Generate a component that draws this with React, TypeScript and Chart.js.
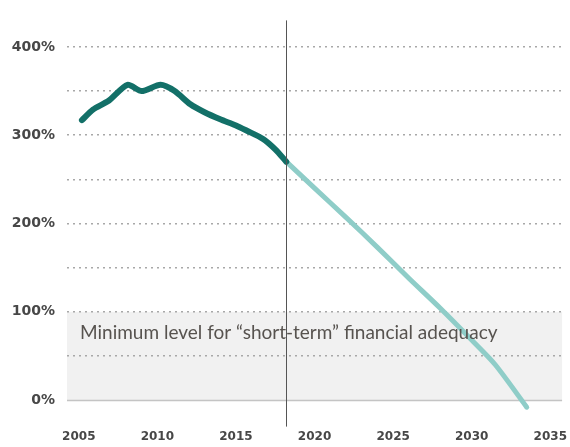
import React, { useEffect, useRef } from "react";
import { Chart, registerables } from "chart.js";

Chart.register(...registerables);

const historicalYears = [2005.2, 2005.9, 2006.9, 2008.1, 2009.0, 2010.2, 2011.1, 2012.1, 2013.0, 2014.0, 2015.0, 2015.7, 2016.7, 2017.5, 2018.2];
const historicalValues = [317, 329, 339, 357, 350, 357, 350, 335, 326, 318, 311, 305, 296, 284, 270];
const projectedYears = [2018.2, 2020, 2022, 2024, 2026, 2028, 2030, 2031.5, 2033.5];
const projectedValues = [270, 240, 207, 173, 138, 104, 68, 40, -8];
const xTicks = [2005, 2010, 2015, 2020, 2025, 2030, 2035];
const yTicks = [0, 50, 100, 150, 200, 250, 300, 350, 400];
const yLabeled = [0, 100, 200, 300, 400];
const dividerYear = 2018.2;
const bandMin = 0;
const bandMax = 100;
const caption = "Minimum level for \u201cshort-term\u201d financial adequacy";

export default function App() {
  const ref = useRef<HTMLCanvasElement | null>(null);

  useEffect(() => {
    const canvas = ref.current;
    if (!canvas) return;

    const decor = {
      id: "decor",
      beforeDraw(chart: any) {
        const { ctx, chartArea, scales } = chart;
        const y = scales.y;
        ctx.save();
        ctx.fillStyle = "#f1f1f1";
        const top = y.getPixelForValue(bandMax);
        const bot = y.getPixelForValue(bandMin);
        ctx.fillRect(chartArea.left, top, chartArea.right - chartArea.left, bot - top);
        ctx.restore();
      },
      beforeDatasetsDraw(chart: any) {
        const { ctx, chartArea, scales } = chart;
        const y0 = Math.round(scales.y.getPixelForValue(0)) + 0.5;
        ctx.save();
        ctx.strokeStyle = "#c4c4c4";
        ctx.lineWidth = 1.5;
        ctx.beginPath();
        ctx.moveTo(chartArea.left, y0);
        ctx.lineTo(chartArea.right, y0);
        ctx.stroke();
        ctx.restore();
      },
      afterDatasetsDraw(chart: any) {
        const { ctx, chartArea, scales } = chart;
        ctx.save();
        const x = Math.round(scales.x.getPixelForValue(dividerYear)) + 0.5;
        ctx.strokeStyle = "#555555";
        ctx.lineWidth = 1;
        ctx.beginPath();
        ctx.moveTo(x, chartArea.top);
        ctx.lineTo(x, chartArea.bottom);
        ctx.stroke();
        ctx.fillStyle = "#57534f";
        ctx.font = "19px Lato";
        ctx.textBaseline = "middle";
        ctx.textAlign = "left";
        ctx.fillText(caption, chartArea.left + 13, scales.y.getPixelForValue(76));
        ctx.restore();
      },
    };

    const chart = new Chart(canvas, {
      type: "line",
      data: {
        datasets: [
          {
            data: historicalYears.map((x, i) => ({ x, y: historicalValues[i] })),
            borderColor: "#137068",
            borderWidth: 6,
            tension: 0.25,
            pointRadius: 0,
            borderCapStyle: "round",
            borderJoinStyle: "round",
          },
          {
            data: projectedYears.map((x, i) => ({ x, y: projectedValues[i] })),
            borderColor: "#8fcdc8",
            borderWidth: 5,
            tension: 0.25,
            pointRadius: 0,
            borderCapStyle: "round",
            borderJoinStyle: "round",
          },
        ],
      },
      plugins: [decor],
      options: {
        animation: false,
        responsive: false,
        maintainAspectRatio: false,
        layout: { padding: { top: 14, right: 0, left: 0, bottom: 0 } },
        plugins: { legend: { display: false }, tooltip: { enabled: false } },
        scales: {
          x: {
            type: "linear",
            min: 2004.25,
            max: 2035.75,
            afterBuildTicks: (s: any) => {
              s.ticks = xTicks.map((v) => ({ value: v }));
            },
            afterFit: (s: any) => {
              s.height = 19;
            },
            grid: { display: false, drawTicks: false },
            border: { display: false },
            ticks: {
              padding: 3,
              maxRotation: 0,
              autoSkip: false,
              color: "#474747",
              font: { family: "DejaVu Sans", size: 12, weight: "bold" },
              callback: (v: any) => String(v),
            },
          },
          y: {
            min: -30,
            max: 430,
            afterBuildTicks: (s: any) => {
              s.ticks = yTicks.map((v) => ({ value: v }));
            },
            afterFit: (s: any) => {
              s.width = 67;
            },
            grid: {
              drawTicks: false,
              color: (c: any) => (c.tick && c.tick.value === 0 ? "rgba(0,0,0,0)" : "#a8a8a8"),
              lineWidth: 1.5,
            },
            border: { display: false, dash: [2, 4] },
            ticks: {
              padding: 12,
              autoSkip: false,
              color: "#474747",
              font: { family: "DejaVu Sans", size: 14, weight: "bold" },
              callback: (v: any) => (yLabeled.includes(v) ? v + "%" : ""),
            },
          },
        },
      },
    } as any);

    return () => chart.destroy();
  }, []);

  return (
    <div style={{ position: "fixed", left: 0, top: 0, width: 570, height: 447, background: "#fff" }}>
      <canvas ref={ref} width={570} height={447} style={{ width: 570, height: 447 }} />
    </div>
  );
}
